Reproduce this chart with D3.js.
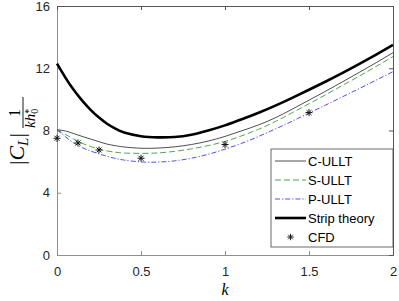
<!DOCTYPE html>
<html>
<head>
<meta charset="utf-8">
<script src="https://cdn.jsdelivr.net/npm/d3@7"></script>
<style>
  body { margin: 0; background: #fff; }
  svg { display: block; }
</style>
</head>
<body>
<div class="liftChart"></div>
<script>
const kValues = [0, 0.05, 0.1, 0.15, 0.2, 0.25, 0.3, 0.35, 0.4, 0.5, 0.6, 0.7, 0.8, 0.9, 1.0, 1.1, 1.2, 1.3, 1.4, 1.5, 1.6, 1.7, 1.8, 1.9, 2.0]
const cUllt = [8.05, 7.97, 7.8, 7.62, 7.45, 7.28, 7.12, 7.02, 6.94, 6.86, 6.87, 6.95, 7.1, 7.32, 7.62, 7.98, 8.36, 8.82, 9.37, 9.95, 10.53, 11.13, 11.74, 12.36, 13.0]
const sUllt = [8.05, 7.75, 7.45, 7.18, 6.97, 6.8, 6.68, 6.6, 6.55, 6.53, 6.56, 6.66, 6.82, 7.03, 7.3, 7.66, 8.08, 8.58, 9.14, 9.72, 10.3, 10.9, 11.5, 12.12, 12.75]
const pUllt = [8.05, 7.6, 7.2, 6.9, 6.68, 6.5, 6.33, 6.2, 6.1, 5.98, 5.97, 6.05, 6.22, 6.47, 6.8, 7.18, 7.62, 8.1, 8.6, 9.12, 9.64, 10.17, 10.7, 11.24, 11.78]
const stripTheory = [12.3, 11.4, 10.6, 9.92, 9.33, 8.83, 8.42, 8.1, 7.87, 7.63, 7.56, 7.58, 7.73, 8.0, 8.33, 8.72, 9.14, 9.6, 10.1, 10.62, 11.15, 11.7, 12.28, 12.88, 13.5]
const cfdK = [0, 0.125, 0.25, 0.5, 1, 1.5]
const cfdValues = [7.5, 7.2, 6.75, 6.22, 7.1, 9.15]
const xTicks = [0, 0.5, 1, 1.5, 2]
const yTicks = [0, 4, 8, 12, 16]
const legendLabels = ["C-ULLT", "S-ULLT", "P-ULLT", "Strip theory", "CFD"]

const width = 399
const height = 301
const margin = { top: 6, right: 6, bottom: 46, left: 57 }
const graphWidth = width - margin.left - margin.right
const graphHeight = height - margin.top - margin.bottom

const series = [
  { name: legendLabels[0], values: cUllt, color: "#222", width: 0.8, dash: null },
  { name: legendLabels[1], values: sUllt, color: "#3c9a3c", width: 0.9, dash: "6,3" },
  { name: legendLabels[2], values: pUllt, color: "#3a3af0", width: 0.9, dash: "5,2,1.2,2" },
  { name: legendLabels[3], values: stripTheory, color: "#000", width: 2.6, dash: null }
]

const svg = d3.select(".liftChart").append("svg").attr("width", width).attr("height", height)

const graph = svg.append("g").attr("transform", `translate(${margin.left}, ${margin.top})`)

const xScale = d3.scaleLinear().domain([0, 2]).range([0, graphWidth])
const yScale = d3.scaleLinear().domain([0, 16]).range([graphHeight, 0])

const tickFont = "'Liberation Sans', Arial, sans-serif"

// axes (ticks point inward, matlab style)
const xAxisBottom = d3.axisBottom(xScale).tickValues(xTicks).tickSize(-4).tickPadding(12).tickFormat(d => d)
const yAxisLeft = d3.axisLeft(yScale).tickValues(yTicks).tickSize(-4).tickPadding(7)
const xAxisTop = d3.axisTop(xScale).tickValues(xTicks).tickSize(-4).tickFormat("")
const yAxisRight = d3.axisRight(yScale).tickValues(yTicks).tickSize(-4).tickFormat("")

const styleAxis = (g, color) => {
  g.selectAll("path").attr("stroke", color).attr("stroke-width", 1)
  g.selectAll("line").attr("stroke", color).attr("stroke-width", 1)
  g.selectAll("text").attr("fill", "#262626").style("font-family", tickFont).style("font-size", "13px")
}

graph.append("g").attr("transform", `translate(0, ${graphHeight})`).call(xAxisBottom).call(g => styleAxis(g, "#8f8f8f"))
graph.append("g").call(yAxisLeft).call(g => styleAxis(g, "#8f8f8f"))
graph.append("g").call(xAxisTop).call(g => styleAxis(g, "#555"))
graph.append("g").attr("transform", `translate(${graphWidth}, 0)`).call(yAxisRight).call(g => styleAxis(g, "#555"))

const line = values =>
  d3
    .line()
    .x((d, i) => xScale(kValues[i]))
    .y(d => yScale(d))
    .curve(d3.curveNatural)(values)

graph
  .selectAll(".series")
  .data(series)
  .enter()
  .append("path")
  .attr("class", "series")
  .attr("d", d => line(d.values))
  .attr("fill", "none")
  .attr("stroke", d => d.color)
  .attr("stroke-width", d => d.width)
  .attr("stroke-dasharray", d => d.dash)

const asterisk = r => {
  const p = d3.path()
  for (let a = 0; a < 4; a++) {
    const t = (a * Math.PI) / 4
    p.moveTo(-r * Math.cos(t), -r * Math.sin(t))
    p.lineTo(r * Math.cos(t), r * Math.sin(t))
  }
  return p.toString()
}

graph
  .selectAll(".cfd")
  .data(cfdValues)
  .enter()
  .append("path")
  .attr("class", "cfd")
  .attr("transform", (d, i) => `translate(${xScale(cfdK[i])}, ${yScale(d)})`)
  .attr("d", asterisk(3.5))
  .attr("stroke", "#111")
  .attr("stroke-width", 1)
  .attr("fill", "none")

// legend
const legend = svg.append("g").attr("transform", "translate(271, 149)")
legend.append("rect").attr("width", 122).attr("height", 98).attr("fill", "#fff").attr("stroke", "#444").attr("stroke-width", 0.8)

const entries = series.concat([{ name: legendLabels[4], marker: true }])
const rows = legend
  .selectAll(".entry")
  .data(entries)
  .enter()
  .append("g")
  .attr("class", "entry")
  .attr("transform", (d, i) => `translate(0, ${12 + i * 19})`)

rows
  .filter(d => !d.marker)
  .append("line")
  .attr("x1", 4)
  .attr("x2", 35)
  .attr("stroke", d => d.color)
  .attr("stroke-width", d => d.width)
  .attr("stroke-dasharray", d => d.dash)

rows
  .filter(d => d.marker)
  .append("path")
  .attr("transform", "translate(19.5, 0)")
  .attr("d", asterisk(3.2))
  .attr("stroke", "#111")
  .attr("stroke-width", 0.9)

rows
  .append("text")
  .attr("x", 37)
  .attr("dy", "0.36em")
  .text(d => d.name)
  .attr("fill", "#000")
  .style("font-family", tickFont)
  .style("font-size", "13px")

// axis labels
const serif = "'Liberation Serif', 'Times New Roman', serif"

svg
  .append("text")
  .attr("x", margin.left + xScale(1))
  .attr("y", 295)
  .attr("text-anchor", "middle")
  .style("font-family", serif)
  .style("font-style", "italic")
  .style("font-size", "16px")
  .text("k")

const yLabel = svg.append("g").attr("transform", "translate(24, 165) rotate(-90)")

const main = yLabel.append("text").style("font-family", serif).style("font-size", "22px").attr("x", 0).attr("y", 0)
main.append("tspan").text("|")
main.append("tspan").style("font-style", "italic").text("C")
main.append("tspan").style("font-style", "italic").style("font-size", "15px").attr("dy", 4).text("L")
main.append("tspan").attr("dy", -4).text("|")

const fracX = 37
yLabel.append("text").attr("x", fracX + 15).attr("y", -4).attr("text-anchor", "middle").style("font-family", serif).style("font-size", "16px").text("1")
yLabel.append("line").attr("x1", fracX).attr("x2", fracX + 31).attr("y1", -1).attr("y2", -1).attr("stroke", "#000").attr("stroke-width", 0.9)

const den = yLabel.append("text").attr("x", fracX).attr("y", 11).style("font-family", serif).style("font-size", "15px")
den.append("tspan").style("font-style", "italic").text("kh")
den.append("tspan").style("font-size", "10px").attr("dy", 3).text("0")
den.append("tspan").style("font-size", "10px").attr("dx", -5).attr("dy", -6).text("*")
</script>
</body>
</html>
